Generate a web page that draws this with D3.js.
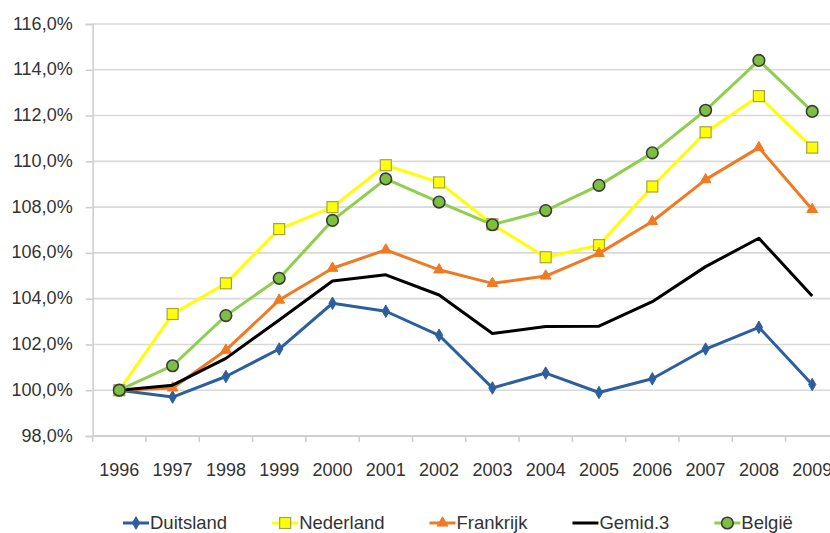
<!DOCTYPE html>
<html>
<head>
<meta charset="utf-8">
<script src="https://cdn.jsdelivr.net/npm/d3@7"></script>
<style>
  html, body { margin: 0; padding: 0; background: #fff; }
  svg { display: block; }
  text { font-family: "Liberation Sans", Arial, sans-serif; fill: #333; }
</style>
</head>
<body>
<svg id="chart" width="830" height="533"></svg>
<script>
const years = ["1996","1997","1998","1999","2000","2001","2002","2003","2004","2005","2006","2007","2008","2009"];
const yTicks = [98, 100, 102, 104, 106, 108, 110, 112, 114, 116];

const duitsland = [100.0, 99.7, 100.6, 101.8, 103.8, 103.45, 102.4, 100.1, 100.75, 99.9, 100.5, 101.8, 102.75, 100.25];
const nederland = [100.0, 103.33, 104.67, 107.04, 108.0, 109.83, 109.08, 107.25, 105.81, 106.34, 108.9, 111.27, 112.85, 110.6];
const frankrijk = [100.0, 100.1, 101.75, 103.94, 105.33, 106.13, 105.26, 104.67, 104.99, 105.98, 107.37, 109.2, 110.6, 107.9];
const gemid3    = [100.0, 100.22, 101.39, 103.07, 104.77, 105.04, 104.16, 102.48, 102.78, 102.8, 103.87, 105.4, 106.64, 104.12];
const belgie    = [100.0, 101.07, 103.26, 104.89, 107.42, 109.23, 108.22, 107.23, 107.85, 108.95, 110.37, 112.23, 114.41, 112.18];

const seriesNames = ["Duitsland", "Nederland", "Frankrijk", "Gemid.3", "België"];
const seriesValues = [duitsland, nederland, frankrijk, gemid3, belgie];

const styles = {
  "Duitsland": {color: "#2d5f9e", marker: "diamond", fill: "#2d5f9e", stroke: "#2d5f9e"},
  "Nederland": {color: "#ffff00", marker: "square", fill: "#ffff00", stroke: "#a3a34a"},
  "Frankrijk": {color: "#f07a22", marker: "triangle", fill: "#f07a22", stroke: "#f07a22"},
  "Gemid.3":   {color: "#000000", marker: "none"},
  "België":    {color: "#8fcf4f", marker: "circle", fill: "#7dbf3f", stroke: "#3a3a3a"}
};

const svg = d3.select("#chart");
const plotLeft = 92.65, plotRight = 838.85, plotTop = 24, plotBottom = 436;

const x = d3.scalePoint().domain(years).range([plotLeft, plotRight]).padding(0.5);
const xBand = d3.scaleBand().domain(years).range([plotLeft, plotRight]);
const y = d3.scaleLinear().domain([98, 116]).range([plotBottom, plotTop]);

const fmtLocale = d3.formatLocale({decimal: ",", thousands: ".", grouping: [3], currency: ["€", ""]});
const fmt = fmtLocale.format(".1f");

// gridlines
svg.append("g").selectAll("line").data(yTicks).join("line")
  .attr("x1", plotLeft).attr("x2", 830)
  .attr("y1", d => y(d)).attr("y2", d => y(d))
  .attr("stroke", "#d9d9d9").attr("stroke-width", 1.6);

// y axis
const yAxis = svg.append("g").attr("transform", `translate(${plotLeft},0)`)
  .call(d3.axisLeft(y).tickValues(yTicks).tickSize(7).tickPadding(13).tickFormat(d => fmt(d) + "%"));
yAxis.select(".domain").attr("stroke", "#cfcfcf").attr("stroke-width", 1.6);
yAxis.selectAll(".tick line").attr("stroke", "#cfcfcf").attr("stroke-width", 1.6);
yAxis.selectAll(".tick text").attr("font-size", 18).attr("fill", "#333")
  .style("font-family", '"Liberation Sans", Arial, sans-serif').attr("dy", "0.28em");

// x axis line and ticks between categories
const xg = svg.append("g");
xg.append("line").attr("x1", plotLeft).attr("x2", 830).attr("y1", plotBottom).attr("y2", plotBottom)
  .attr("stroke", "#cfcfcf").attr("stroke-width", 1.8);
const boundaries = years.map(d => xBand(d)).concat([xBand(years[years.length - 1]) + xBand.bandwidth()]);
xg.selectAll("line.tk").data(boundaries).join("line").attr("class", "tk")
  .attr("x1", d => d).attr("x2", d => d).attr("y1", plotBottom).attr("y2", plotBottom + 6)
  .attr("stroke", "#cfcfcf").attr("stroke-width", 1.6);
xg.selectAll("text").data(years).join("text")
  .attr("x", d => x(d)).attr("y", 476)
  .attr("text-anchor", "middle").attr("font-size", 18).text(d => d);

// markers
function drawMarker(g, type, st, cx, cy) {
  if (type === "diamond") {
    g.append("path").attr("d", d3.symbol(d3.symbolDiamond, 45)()).attr("transform", `translate(${cx},${cy})`)
      .attr("fill", st.fill).attr("stroke", st.stroke).attr("stroke-width", 1);
  } else if (type === "square") {
    g.append("rect").attr("x", cx - 5.5).attr("y", cy - 5.5).attr("width", 11).attr("height", 11)
      .attr("fill", st.fill).attr("stroke", st.stroke).attr("stroke-width", 1.2);
  } else if (type === "triangle") {
    g.append("path").attr("d", d3.symbol(d3.symbolTriangle, 50)()).attr("transform", `translate(${cx},${cy})`)
      .attr("fill", st.fill).attr("stroke", st.stroke).attr("stroke-width", 1);
  } else if (type === "circle") {
    g.append("circle").attr("cx", cx).attr("cy", cy).attr("r", 5.8)
      .attr("fill", st.fill).attr("stroke", st.stroke).attr("stroke-width", 1.6);
  }
}

const line = d3.line().x((d, i) => x(years[i])).y(d => y(d));
seriesNames.forEach((name, si) => {
  const vals = seriesValues[si];
  const st = styles[name];
  const g = svg.append("g");
  g.append("path").datum(vals).attr("d", line)
    .attr("fill", "none").attr("stroke", st.color).attr("stroke-width", 3)
    .attr("stroke-linejoin", "round");
  if (st.marker !== "none") {
    vals.forEach((v, i) => drawMarker(g, st.marker, st, x(years[i]), y(v)));
  }
});

// legend
const legendY = 523;
let lx = 123;
seriesNames.forEach(name => {
  const st = styles[name];
  const g = svg.append("g");
  g.append("line").attr("x1", lx).attr("x2", lx + 26).attr("y1", legendY).attr("y2", legendY)
    .attr("stroke", st.color).attr("stroke-width", 3);
  if (st.marker !== "none") drawMarker(g, st.marker, st, lx + 13, legendY);
  const t = g.append("text").attr("x", lx + 27).attr("y", legendY).attr("dy", "0.35em")
    .attr("font-size", 18.5).text(name);
  lx += 27 + t.node().getComputedTextLength() + 45;
});
</script>
</body>
</html>
